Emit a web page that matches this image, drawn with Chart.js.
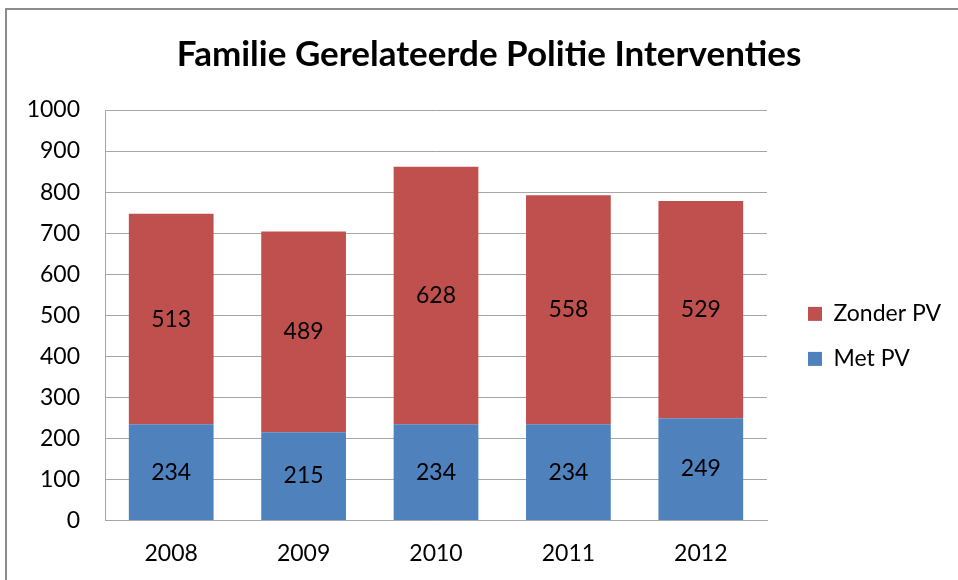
<!DOCTYPE html>
<html>
<head>
<meta charset="utf-8">
<script src="https://cdn.jsdelivr.net/npm/chart.js@4"></script>
<style>
  body { margin: 0; background: #fff; }
  #wrap { position: relative; width: 958px; height: 580px; }
  #frame { position: absolute; left: 5px; top: 8px; right: -4px; bottom: -4px; border: 2px solid #8c8c8c; }
  canvas { position: absolute; left: 0; top: 0; }
</style>
</head>
<body>
<div id="wrap">
  <div id="frame"></div>
  <canvas id="chart" width="958" height="580"></canvas>
</div>
<script>
const years = ['2008', '2009', '2010', '2011', '2012'];
const metPV = [234, 215, 234, 234, 249];
const zonderPV = [513, 489, 628, 558, 529];

// draws the value in the middle of every bar segment
const segmentLabels = {
  id: 'segmentLabels',
  afterDatasetsDraw(chart) {
    const ctx = chart.ctx;
    ctx.save();
    ctx.font = '23px Lato';
    ctx.fillStyle = '#000';
    ctx.textAlign = 'center';
    ctx.textBaseline = 'middle';
    chart.data.datasets.forEach((ds, i) => {
      chart.getDatasetMeta(i).data.forEach((bar, j) => {
        const mid = (bar.y + bar.base) / 2;
        ctx.fillText(ds.data[j], bar.x, mid);
      });
    });
    ctx.restore();
  }
};

Chart.defaults.font.family = 'Lato';
Chart.defaults.color = '#000';

new Chart(document.getElementById('chart'), {
  type: 'bar',
  data: {
    labels: years,
    datasets: [
      { label: 'Met PV', data: metPV, backgroundColor: '#4f81bd', categoryPercentage: 0.64, barPercentage: 1 },
      { label: 'Zonder PV', data: zonderPV, backgroundColor: '#c0504d', categoryPercentage: 0.64, barPercentage: 1 }
    ]
  },
  options: {
    responsive: false,
    animation: false,
    layout: { padding: { left: 27, right: 7, top: 24, bottom: -6 } },
    plugins: {
      title: {
        display: true,
        text: 'Familie Gerelateerde Politie Interventies',
        font: { size: 35, weight: 'bold' },
        color: '#000',
        padding: { top: 10, bottom: 34 }
      },
      legend: {
        position: 'right',
        reverse: true,
        maxWidth: 165,
        title: { display: true, text: ' ', font: { size: 4 }, padding: 29 },
        labels: { boxWidth: 14, boxHeight: 14, padding: 22, font: { size: 23 } }
      },
      tooltip: { enabled: false }
    },
    scales: {
      x: {
        stacked: true,
        grid: { display: false, drawTicks: false },
        border: { color: '#a6a6a6' },
        ticks: { font: { size: 23 }, padding: 19 }
      },
      y: {
        stacked: true,
        min: 0,
        max: 1000,
        ticks: { stepSize: 100, font: { size: 23 }, padding: 25, callback: v => String(v) },
        grid: { color: '#a6a6a6', drawTicks: false },
        border: { color: '#a6a6a6' },
        afterFit(scale) { scale.width = 78; }
      },
      // empty spacer between the plot and the legend
      gap: {
        position: 'right',
        min: 0,
        max: 1,
        grid: { display: false, drawTicks: false },
        border: { display: false },
        ticks: { display: false },
        afterFit(scale) { scale.width = 19; }
      }
    }
  },
  plugins: [segmentLabels]
});
</script>
</body>
</html>
